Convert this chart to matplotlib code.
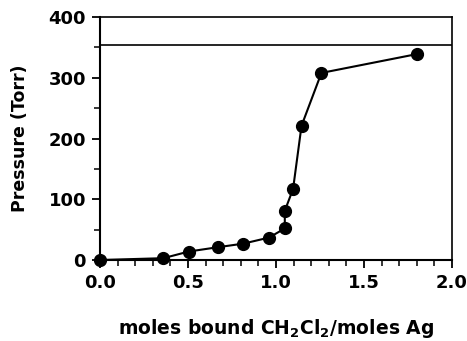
import numpy as np
import matplotlib.pyplot as plt
from matplotlib.ticker import MultipleLocator

# moles de CH2Cl2 unidos por mol de Ag vs. presion
moles_ratio = [0.0, 0.36, 0.505, 0.668, 0.815, 0.961, 1.05, 1.05, 1.097, 1.145, 1.258, 1.80]
pressure = [0, 3, 14, 21, 27, 37, 52, 81, 117, 221, 308, 339]
vapor_pressure = 354

fig = plt.figure(figsize=(4.67, 3.41), dpi=100)
ax = fig.add_axes([0.214, 0.2375, 0.754, 0.7125])

ax.plot(moles_ratio, pressure, color='black', linewidth=1.5,
        marker='o', markersize=8.5, clip_on=False, zorder=3)
ax.axhline(vapor_pressure, color='black', linewidth=1.2)

ax.set_xlim(0, 2.0)
ax.set_ylim(0, 400)
ax.xaxis.set_major_locator(MultipleLocator(0.5))
ax.xaxis.set_minor_locator(MultipleLocator(0.1))
ax.yaxis.set_major_locator(MultipleLocator(100))
ax.yaxis.set_minor_locator(MultipleLocator(50))
ax.xaxis.set_major_formatter(plt.FormatStrFormatter('%.1f'))

for s in ['left', 'bottom']:
    ax.spines[s].set_linewidth(1.5)
for s in ['top', 'right']:
    ax.spines[s].set_linewidth(1.2)

ax.tick_params(which='major', direction='out', length=6, width=1.3,
               labelsize=13, pad=4)
ax.tick_params(which='minor', direction='out', length=4, width=1.1)
for lab in ax.get_xticklabels() + ax.get_yticklabels():
    lab.set_fontweight('bold')

ax.set_xlabel('moles bound CH$_\\mathbf{2}$Cl$_\\mathbf{2}$/moles Ag',
              fontsize=13.5, fontweight='bold', labelpad=18)
ax.set_ylabel('Pressure (Torr)', fontsize=12.5, fontweight='bold', labelpad=14)

fig.savefig('out.png', dpi=100)
